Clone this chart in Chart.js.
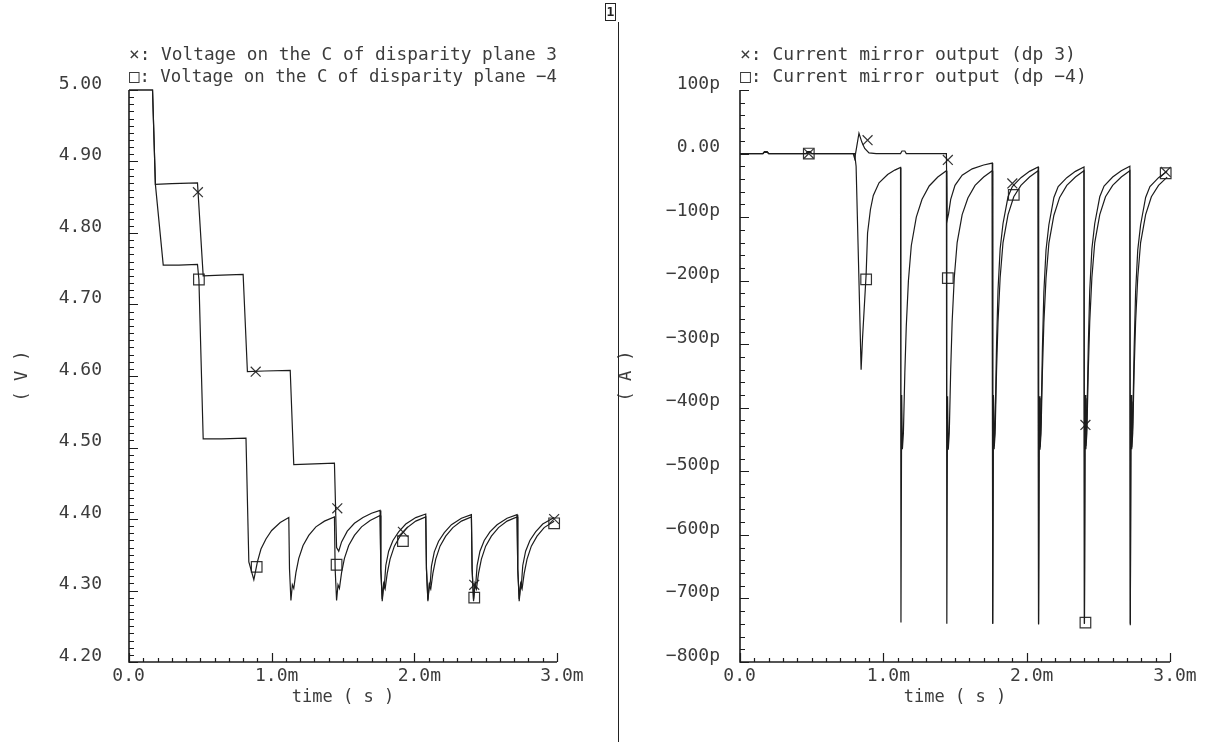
<!DOCTYPE html>
<html>
<head>
<meta charset="utf-8">
<script src="https://cdn.jsdelivr.net/npm/chart.js@4.4.1/dist/chart.umd.min.js"></script>
<style>
  html, body { margin: 0; padding: 0; background: #fff; }
  body { width: 1215px; height: 742px; position: relative; overflow: hidden; }
  canvas { position: absolute; top: 0; }
  #volt { left: 0; }
  #curr { left: 612px; }
  .divider { position: absolute; left: 618px; top: 22px; width: 1px; height: 720px; background: #222; }
  .pane-no { position: absolute; left: 605px; top: 3px; width: 9px; height: 16px; border: 1px solid #222;
             font: bold 13px 'DejaVu Sans Mono', monospace; line-height: 16px; text-align: center; color: #222; }
</style>
</head>
<body>
<canvas id="volt" width="612" height="742"></canvas>
<canvas id="curr" width="603" height="742"></canvas>
<div class="divider"></div>
<div class="pane-no">1</div>
<script>
// ---- data (time in ms) ----
const timeTicks = ['0.0 ', '1.0m', '2.0m', '3.0m'];
const voltTicks = ['4.20', '4.30', '4.40', '4.50', '4.60', '4.70', '4.80', '4.90', '5.00'];
const currTicks = ['\u2212800p', '\u2212700p', '\u2212600p', '\u2212500p', '\u2212400p', '\u2212300p', '\u2212200p', '\u2212100p', '0.00', '100p'];

const voltLegend = ['\u00d7: Voltage on the C of disparity plane 3', '\u25a1: Voltage on the C of disparity plane \u22124'];
const currLegend = ['\u00d7: Current mirror output (dp 3)', '\u25a1: Current mirror output (dp \u22124)'];

// voltage, disparity plane 3
const tV3 = [
  0, 0.165, 0.185, 0.30, 0.48, 0.52, 0.65, 0.80, 0.83, 0.95, 1.13, 1.155, 1.30, 1.44,
  1.455, 1.47, 1.49, 1.53, 1.58, 1.64, 1.70, 1.76,
  1.765, 1.775, 1.785, 1.79, 1.80, 1.82, 1.85, 1.89, 1.94, 2.01, 2.08,
  2.085, 2.095, 2.105, 2.11, 2.12, 2.14, 2.17, 2.21, 2.26, 2.33, 2.40,
  2.405, 2.415, 2.425, 2.43, 2.44, 2.46, 2.49, 2.53, 2.58, 2.65, 2.72,
  2.725, 2.735, 2.745, 2.75, 2.76, 2.78, 2.81, 2.85, 2.90, 2.98
];
const vV3 = [
  5.00, 5.00, 4.868, 4.869, 4.870, 4.740, 4.741, 4.742, 4.606, 4.607, 4.608, 4.476, 4.477, 4.478,
  4.36, 4.355, 4.368, 4.383, 4.394, 4.402, 4.408, 4.412,
  4.33, 4.288, 4.31, 4.307, 4.335, 4.355, 4.37, 4.382, 4.393, 4.402, 4.407,
  4.33, 4.287, 4.309, 4.306, 4.334, 4.354, 4.369, 4.381, 4.392, 4.401, 4.406,
  4.33, 4.288, 4.31, 4.307, 4.335, 4.355, 4.37, 4.382, 4.392, 4.401, 4.406,
  4.33, 4.288, 4.31, 4.307, 4.335, 4.355, 4.37, 4.382, 4.393, 4.402
];

// voltage, disparity plane -4
const tV4 = [
  0, 0.165, 0.185, 0.24, 0.35, 0.48, 0.49, 0.52, 0.65, 0.82, 0.84, 0.875, 0.885, 0.90, 0.925, 0.96, 1.00, 1.06, 1.12,
  1.125, 1.135, 1.145, 1.155, 1.17, 1.19, 1.22, 1.26, 1.31, 1.37, 1.44,
  1.445, 1.455, 1.465, 1.475, 1.49, 1.51, 1.54, 1.58, 1.63, 1.69, 1.76,
  1.765, 1.775, 1.785, 1.795, 1.81, 1.83, 1.86, 1.90, 1.95, 2.01, 2.08,
  2.085, 2.095, 2.105, 2.115, 2.13, 2.15, 2.18, 2.22, 2.27, 2.33, 2.40,
  2.405, 2.415, 2.425, 2.435, 2.45, 2.47, 2.50, 2.54, 2.59, 2.65, 2.72,
  2.725, 2.735, 2.745, 2.755, 2.77, 2.79, 2.82, 2.86, 2.91, 2.98
];
const vV4 = [
  5.00, 5.00, 4.868, 4.755, 4.755, 4.756, 4.735, 4.512, 4.512, 4.513, 4.34, 4.315, 4.325, 4.34, 4.358, 4.372, 4.384, 4.395, 4.402,
  4.33, 4.286, 4.308, 4.303, 4.325, 4.345, 4.363, 4.377, 4.389, 4.397, 4.403,
  4.33, 4.286, 4.308, 4.303, 4.325, 4.345, 4.363, 4.377, 4.389, 4.398, 4.405,
  4.33, 4.285, 4.307, 4.302, 4.324, 4.344, 4.362, 4.376, 4.388, 4.397, 4.403,
  4.33, 4.285, 4.307, 4.302, 4.324, 4.344, 4.362, 4.376, 4.388, 4.397, 4.403,
  4.33, 4.285, 4.307, 4.302, 4.324, 4.344, 4.362, 4.376, 4.388, 4.397, 4.403,
  4.33, 4.285, 4.307, 4.302, 4.324, 4.344, 4.362, 4.376, 4.388, 4.397
];

// current mirror output (pA), dp 3
const tI3 = [
  0, 0.16, 0.17, 0.19, 0.20, 0.47, 0.48, 0.50, 0.79, 0.80, 0.81, 0.83, 0.85, 0.87, 0.90, 0.95, 1.12, 1.13, 1.15, 1.16, 1.44,
  1.445, 1.455, 1.47, 1.50, 1.55, 1.62, 1.70, 1.76,
  1.763, 1.768, 1.773, 1.78, 1.79, 1.80, 1.815, 1.835, 1.87, 1.90, 1.96, 2.02, 2.08,
  2.083, 2.088, 2.093, 2.10, 2.11, 2.12, 2.135, 2.155, 2.19, 2.22, 2.28, 2.34, 2.40,
  2.403, 2.408, 2.413, 2.42, 2.43, 2.44, 2.455, 2.475, 2.51, 2.54, 2.60, 2.66, 2.72,
  2.723, 2.728, 2.733, 2.74, 2.75, 2.76, 2.775, 2.795, 2.83, 2.86, 2.92, 2.98
];
const vI3 = [
  0, 0, 3, 3, 0, 0, 2, 0, 0, -8, 5, 32, 18, 8, 1, 0, 0, 4, 4, 0, 0,
  -105, -95, -72, -50, -34, -24, -18, -15,
  -740, -380, -460, -420, -300, -215, -150, -110, -68, -52, -38, -28, -21,
  -740, -385, -462, -425, -305, -218, -152, -112, -69, -52, -38, -28, -21,
  -740, -385, -460, -422, -302, -216, -150, -110, -68, -51, -37, -27, -20,
  -742, -390, -462, -425, -305, -218, -152, -112, -69, -52, -38, -28
];

// current mirror output (pA), dp -4
const tI4 = [
  0, 0.16, 0.17, 0.19, 0.20, 0.46, 0.47, 0.49, 0.50, 0.80, 0.81, 0.83, 0.845, 0.855, 0.87, 0.88, 0.89, 0.91, 0.93, 0.97, 1.03, 1.08, 1.12,
  1.123, 1.128, 1.133, 1.14, 1.15, 1.16, 1.175, 1.195, 1.23, 1.27, 1.32, 1.38, 1.44,
  1.443, 1.448, 1.453, 1.46, 1.47, 1.48, 1.495, 1.515, 1.55, 1.59, 1.64, 1.70, 1.76,
  1.763, 1.768, 1.773, 1.78, 1.79, 1.80, 1.815, 1.835, 1.87, 1.91, 1.96, 2.02, 2.08,
  2.083, 2.088, 2.093, 2.10, 2.11, 2.12, 2.135, 2.155, 2.19, 2.23, 2.28, 2.34, 2.40,
  2.403, 2.408, 2.413, 2.42, 2.43, 2.44, 2.455, 2.475, 2.51, 2.55, 2.60, 2.66, 2.72,
  2.723, 2.728, 2.733, 2.74, 2.75, 2.76, 2.775, 2.795, 2.83, 2.87, 2.92, 2.98
];
const vI4 = [
  0, 0, 2, 2, 0, 0, 3, 3, 0, 0, -20, -200, -340, -290, -230, -190, -125, -88, -66, -46, -33, -26, -22,
  -738, -380, -465, -440, -345, -272, -200, -145, -100, -72, -51, -37, -27,
  -740, -382, -466, -440, -340, -265, -195, -140, -96, -70, -50, -37, -27,
  -740, -380, -465, -440, -340, -265, -195, -140, -96, -68, -50, -37, -27,
  -741, -382, -466, -441, -342, -266, -196, -141, -97, -69, -50, -37, -27,
  -740, -380, -465, -440, -340, -265, -195, -140, -96, -68, -50, -37, -27,
  -740, -380, -465, -440, -340, -265, -195, -140, -96, -68, -50, -37
];

// marker positions
const voltCrossT = [0.483, 0.888, 1.46, 1.92, 2.42, 2.98];
const voltCrossV = [4.857, 4.606, 4.415, 4.382, 4.308, 4.40];
const voltBoxT = [0.49, 0.895, 1.455, 1.92, 2.42, 2.98];
const voltBoxV = [4.735, 4.333, 4.336, 4.369, 4.29, 4.394];
const currCrossT = [0.48, 0.89, 1.45, 1.90, 2.41, 2.97];
const currCrossV = [0, 21, -10, -47, -427, -29];
const currBoxT = [0.48, 0.88, 1.45, 1.91, 2.41, 2.97];
const currBoxV = [0, -198, -196, -65, -738, -31];

// ---- drawing ----
const MONO = "'DejaVu Sans Mono', monospace";
const INK = '#1c1c1c';
const TEXT = '#3c3c3c';

const pts = (ts, vs) => ts.map((t, i) => ({ x: t, y: vs[i] }));

// label only the major ticks, from the tick label arrays
function majorLabel(value, min, step, labels) {
  const k = (value - min) / step;
  return Math.abs(k - Math.round(k)) < 1e-6 ? labels[Math.round(k)] : '';
}

// the plots have only a left and a bottom axis, with ticks pointing inward
const inwardTicks = {
  id: 'inwardTicks',
  afterDraw(chart) {
    const { ctx, chartArea: a, scales: { x, y } } = chart;
    ctx.save();
    ctx.strokeStyle = INK;
    ctx.lineWidth = 1.6;
    ctx.beginPath();
    ctx.moveTo(a.left, a.top);
    ctx.lineTo(a.left, a.bottom);
    ctx.lineTo(a.right, a.bottom);
    ctx.stroke();
    ctx.lineWidth = 1.2;
    ctx.beginPath();
    y.ticks.forEach(t => {
      const py = Math.round(y.getPixelForValue(t.value)) + 0.5;
      ctx.moveTo(a.left, py);
      ctx.lineTo(a.left + (t.label ? 9 : 5), py);
    });
    x.ticks.forEach(t => {
      const px = Math.round(x.getPixelForValue(t.value)) + 0.5;
      ctx.moveTo(px, a.bottom);
      ctx.lineTo(px, a.bottom - (t.label ? 9 : 4));
    });
    ctx.stroke();
    ctx.restore();
  }
};

function lineSet(data) {
  return { type: 'line', data, borderColor: INK, borderWidth: 1.2, pointRadius: 0, tension: 0, fill: false, clip: 6 };
}
function markSet(data, style) {
  return { type: 'scatter', data, showLine: false, pointStyle: style, pointRadius: style === 'rect' ? 7.5 : 7,
           pointBorderColor: '#333', pointBorderWidth: 1.2, pointBackgroundColor: 'rgba(0,0,0,0)', clip: 10 };
}

function makeChart(canvasId, cfg) {
  return new Chart(document.getElementById(canvasId), {
    data: { datasets: cfg.datasets },
    options: {
      responsive: false,
      animation: false,
      events: [],
      layout: { padding: { top: 0, left: 0, bottom: 0, right: cfg.padRight } },
      plugins: {
        legend: { display: false },
        tooltip: { enabled: false },
        title: {
          display: true, fullSize: false, align: 'start', text: cfg.legend, color: TEXT,
          font: { family: MONO, size: 18, weight: 'normal', lineHeight: 1.2 },
          padding: { top: 45, bottom: 1.8 }
        }
      },
      scales: {
        x: {
          type: 'linear', min: 0, max: 3,
          afterFit: s => { s.height = 80; },
          grid: { display: false, drawTicks: false },
          border: { display: false },
          ticks: {
            stepSize: 0.1, autoSkip: false, maxRotation: 0, padding: 4, labelOffset: 5, maxTicksLimit: 200,
            color: TEXT, font: { family: MONO, size: 18 },
            callback: v => majorLabel(v, 0, 1, timeTicks)
          },
          title: { display: true, text: 'time ( s )', color: TEXT, font: { family: MONO, size: 17 }, padding: { top: 0, bottom: 34 } }
        },
        y: {
          type: 'linear', min: cfg.yMin, max: cfg.yMax,
          afterFit: s => { s.width = cfg.axisLeft; },
          grid: { display: false, drawTicks: false },
          border: { display: false },
          ticks: {
            stepSize: cfg.yMinor, autoSkip: false, padding: cfg.labelGap, labelOffset: -6, maxTicksLimit: 200,
            color: TEXT, font: { family: MONO, size: 18 },
            callback: v => majorLabel(v, cfg.yMin, cfg.yMajor, cfg.yLabels)
          },
          title: { display: true, text: cfg.yTitle, color: TEXT, font: { family: MONO, size: 17 }, padding: { top: cfg.titleGap } }
        }
      }
    },
    plugins: [inwardTicks]
  });
}

makeChart('volt', {
  legend: voltLegend,
  padRight: 55, axisLeft: 129, labelGap: 27, titleGap: 12,
  yMin: 4.2, yMax: 5.0, yMinor: 0.01, yMajor: 0.1, yLabels: voltTicks, yTitle: '( V )',
  datasets: [
    lineSet(pts(tV3, vV3)),
    lineSet(pts(tV4, vV4)),
    markSet(pts(voltCrossT, voltCrossV), 'crossRot'),
    markSet(pts(voltBoxT, voltBoxV), 'rect')
  ]
});

makeChart('curr', {
  legend: currLegend,
  padRight: 45, axisLeft: 128, labelGap: 20, titleGap: 4,
  yMin: -800, yMax: 100, yMinor: 20, yMajor: 100, yLabels: currTicks, yTitle: '( A )',
  datasets: [
    lineSet(pts(tI3, vI3)),
    lineSet(pts(tI4, vI4)),
    markSet(pts(currCrossT, currCrossV), 'crossRot'),
    markSet(pts(currBoxT, currBoxV), 'rect')
  ]
});
</script>
</body>
</html>
